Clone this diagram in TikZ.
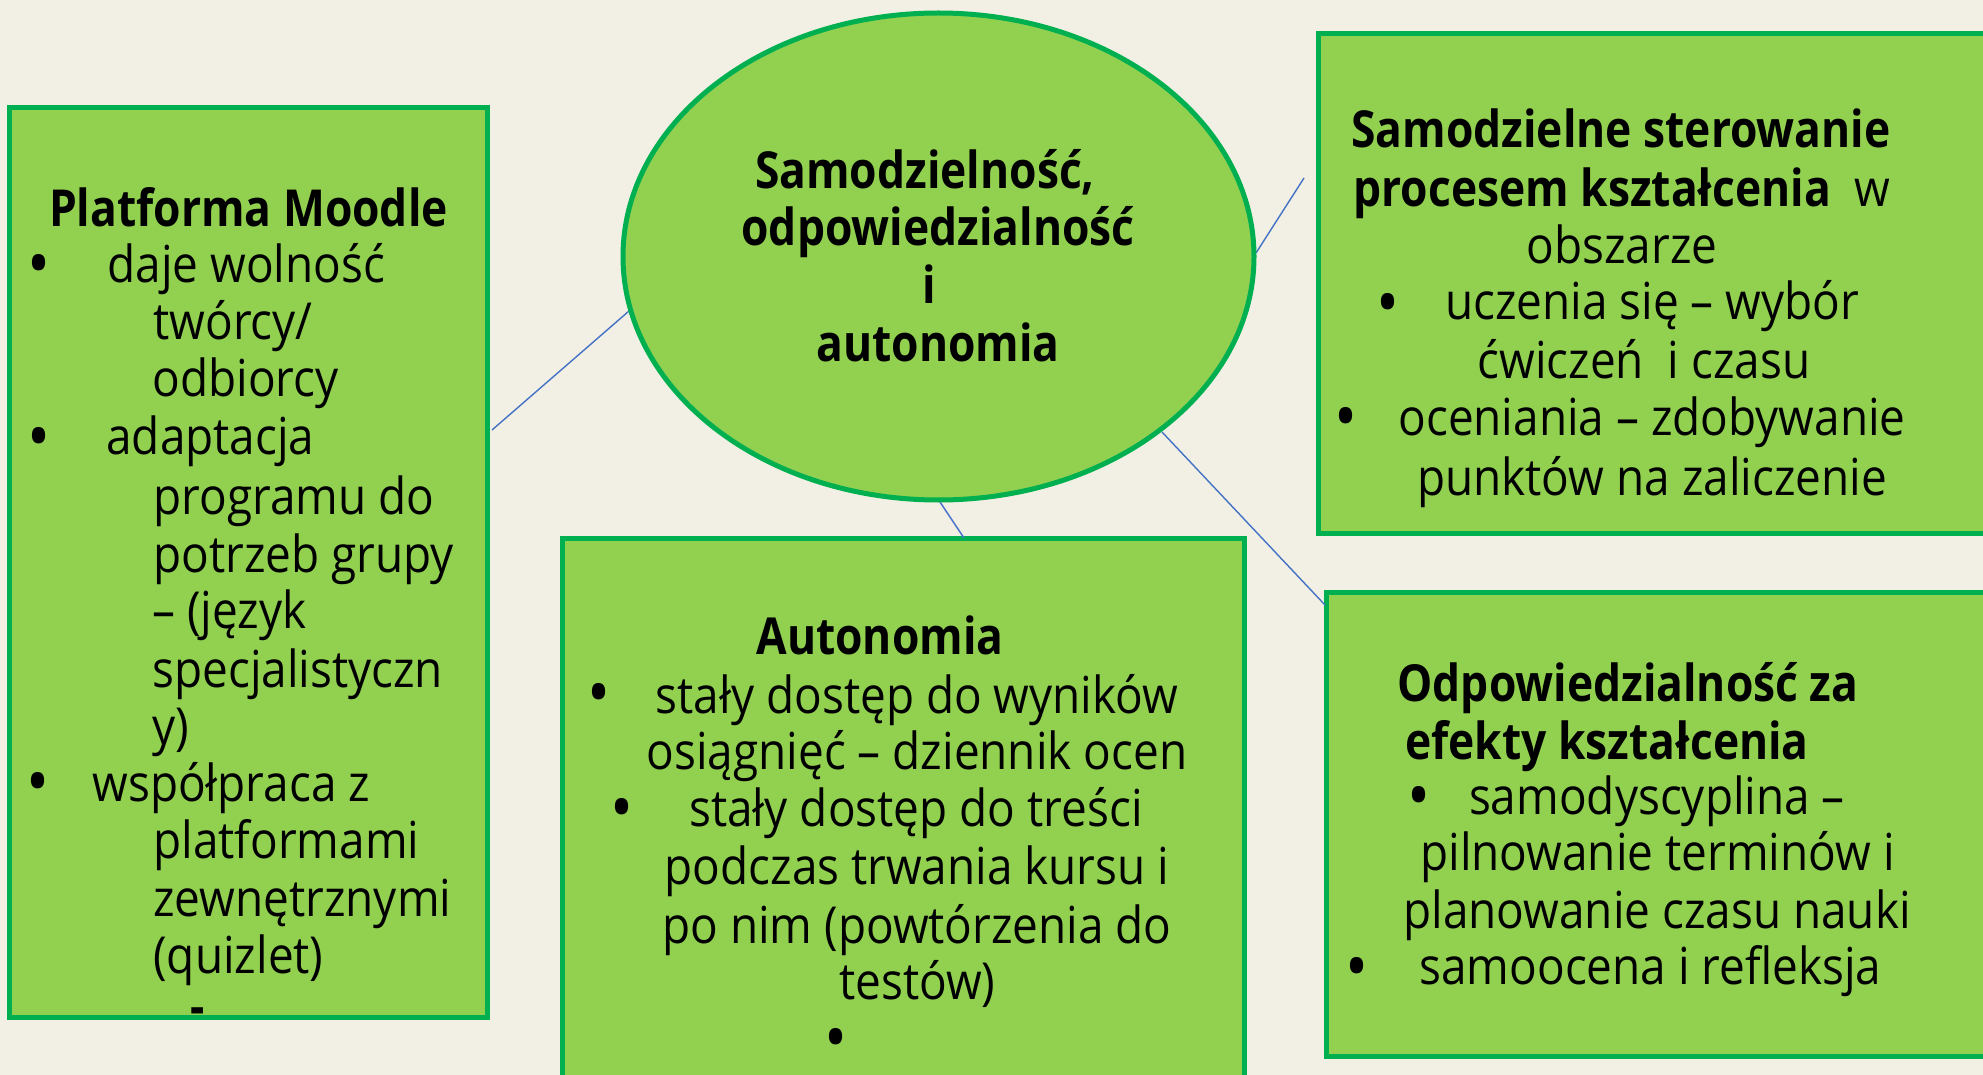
\documentclass[tikz,border=0pt]{standalone}
\usepackage{fontspec}
\setmainfont{Open Sans}[FakeStretch=0.9, BoldFeatures={FakeStretch=0.87}]
\usetikzlibrary{shapes.geometric}
\definecolor{bgc}{HTML}{F2F0E5}
\definecolor{boxfill}{HTML}{92D050}
\definecolor{boxline}{HTML}{00B050}
\definecolor{connc}{HTML}{4472C4}
\tikzset{
  box/.style={draw=boxline, fill=boxfill, line width=2.5pt, rectangle, inner sep=0pt},
  oval/.style={draw=boxline, fill=boxfill, line width=2.5pt, ellipse, inner sep=0pt},
  conn/.style={draw=connc, line width=0.7pt},
  txt/.style={inner sep=0pt, text=black, font=\fontsize{25.5}{30}\selectfont},
  tw/.style={txt, anchor=base west},
  tc/.style={txt, anchor=base},
  twb/.style={tw, font=\fontsize{25.5}{30}\selectfont\bfseries},
  tcb/.style={tc, font=\fontsize{25.5}{30}\selectfont\bfseries},
  bul/.style={txt, anchor=base, font=\fontsize{34}{34}\selectfont, yshift=-11.5pt},
}
\newcommand\tl[5]{\node[#1] (#2) at (#3,#4) {#5};}
\begin{document}
\begin{tikzpicture}[x=0.5pt,y=-0.5pt]
\useasboundingbox (0,0) rectangle (1983,1075);
\clip (0,0) rectangle (1983,1075);
\fill[bgc] (0,0) rectangle (1983,1075);

% connector end points
\coordinate (pL1) at (492,430);
\coordinate (pL2) at (629,311);
\coordinate (pR1) at (1256,253);
\coordinate (pR2) at (1304,178);
\coordinate (pA1) at (940,502);
\coordinate (pA2) at (964,538);
\coordinate (pB1) at (1162,432);
\coordinate (pB2) at (1325,605);

% boxes
\node[box, minimum width=239pt, minimum height=454.5pt] (left) at (248,562.5) {};
\node[box, minimum width=346pt, minimum height=249.5pt] (topright) at (1664,283.5) {};
\node[box, minimum width=342pt, minimum height=232pt] (botright) at (1668,824) {};
\node[box, minimum width=341pt, minimum height=286pt] (auto) at (903,824) {};

% connectors
\draw[conn] (pL1) -- (pL2);
\draw[conn] (pR1) -- (pR2);
\draw[conn] (pA1) -- (pA2);
\draw[conn] (pB1) -- (pB2);

\node[oval, minimum width=315.5pt, minimum height=243.5pt] (center) at (938.5,256.5) {};

% centre text
\tl{tcb}{e1}{925}{189}{Samodzielność,}
\tl{tcb}{e2}{938}{246}{odpowiedzialność}
\tl{tcb}{e3}{929}{304}{i}
\tl{tcb}{e4}{938}{362}{autonomia}

% left box
\tl{tcb}{l0}{248.5}{227}{Platforma Moodle}
\tl{bul}{lb1}{39}{265}{•}
\tl{tw}{l1}{107}{283}{daje wolność}
\tl{tw}{l2}{153}{340}{twórcy/}
\tl{tw}{l3}{152}{397}{odbiorcy}
\tl{bul}{lb2}{39}{437}{•}
\tl{tw}{l4}{106}{455}{adaptacja}
\tl{tw}{l5}{153}{515}{programu do}
\tl{tw}{l6}{153}{572}{potrzeb grupy}
\tl{tw}{l7}{152}{628}{– (język}
\tl{tw}{l8}{152}{687}{specjalistyczn}
\tl{tw}{l9}{152}{744}{y)}
\tl{bul}{lb3}{38}{782}{•}
\tl{tw}{l10}{92}{801}{współpraca z}
\tl{tw}{l11}{153}{858}{platformami}
\tl{tw}{l12}{153}{916}{zewnętrznymi}
\tl{tw}{l13}{153}{973}{(quizlet)}
\node[txt, font=\fontsize{25.5}{30}\selectfont\bfseries, anchor=center] (ldash) at (198,1016) {-};

% top right box
\tl{tcb}{r1}{1621}{148}{Samodzielne sterowanie}
\tl{tc}{r2}{1622}{207}{\textbf{procesem kształcenia}\ \ w}
\tl{tc}{r3}{1622}{264}{obszarze}
\tl{bul}{rb1}{1387.5}{304}{•}
\tl{tc}{r4}{1652}{320}{uczenia się – wybór}
\tl{tc}{r5}{1644}{379}{ćwiczeń\ \ i czasu}
\tl{bul}{rb2}{1345.5}{418}{•}
\tl{tc}{r6}{1652}{436}{oceniania – zdobywanie}
\tl{tc}{r7}{1652}{495}{punktów na zaliczenie}

% bottom right box
\tl{tcb}{b1}{1628}{701}{Odpowiedzialność za}
\tl{tcb}{b2}{1607}{759}{efekty kształcenia}
\tl{bul}{bb1}{1419}{796}{•}
\tl{tc}{b3}{1657}{814.5}{samodyscyplina –}
\tl{tc}{b4}{1657.5}{870}{pilnowanie terminów i}
\tl{tc}{b5}{1657}{928}{planowanie czasu nauki}
\tl{bul}{bb2}{1356.5}{967}{•}
\tl{tc}{b6}{1650.5}{984}{samoocena i refleksja}

% autonomia box
\tl{tcb}{a0}{880}{654.5}{Autonomia}
\tl{bul}{ab1}{599}{693}{•}
\tl{tc}{a1}{917}{713}{stały dostęp do wyników}
\tl{tc}{a2}{917}{769.5}{osiągnięć – dziennik ocen}
\tl{bul}{ab2}{621.5}{808.5}{•}
\tl{tc}{a3}{916}{826}{stały dostęp do treści}
\tl{tc}{a4}{917}{884.6}{podczas trwania kursu i}
\tl{tc}{a5}{917}{943}{po nim (powtórzenia do}
\tl{tc}{a6}{917.5}{999.6}{testów)}
\tl{bul}{ab3}{836}{1038.6}{•}
\end{tikzpicture}
\end{document}
